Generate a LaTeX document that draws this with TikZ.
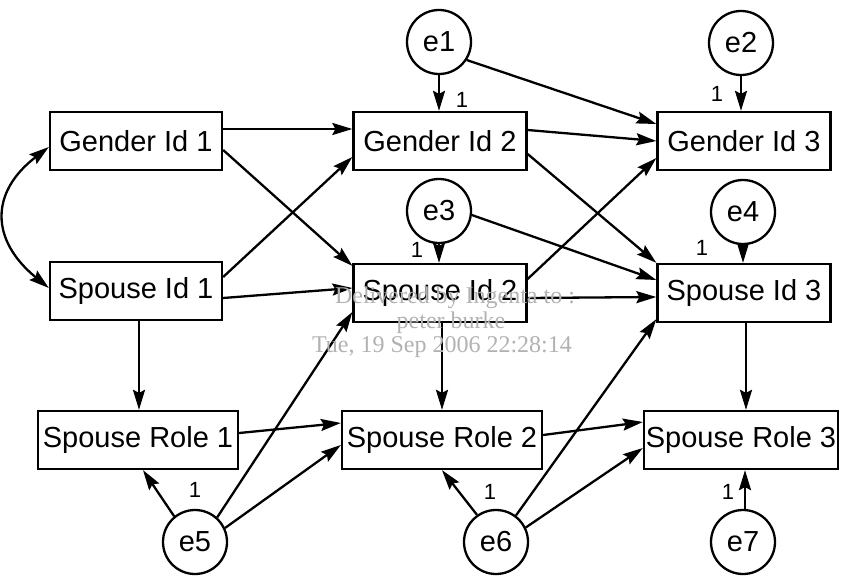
\documentclass[tikz,border=0pt]{standalone}
\usepackage{fontspec}
\setmainfont{Liberation Sans}
\newfontfamily\wmfont{Liberation Serif}
\usetikzlibrary{arrows.meta,calc}
\begin{document}
\begin{tikzpicture}[x=1pt,y=-1pt,
  box/.style={draw,line width=2.3pt,minimum height=58pt,inner sep=0pt,font=\fontsize{29}{31}\selectfont},
  err/.style={draw,circle,line width=2.3pt,minimum size=64pt,inner sep=0pt,font=\fontsize{29}{31}\selectfont},
  tip/.tip={Stealth[length=20pt,width=12pt,inset=3pt]},
  arr/.style={line width=2.3pt,-tip},
  one/.style={font=\fontsize{22}{24}\selectfont,inner sep=0pt},
  wm/.style={font=\wmfont\fontsize{24}{26}\selectfont,text=black!30,inner sep=0pt}]
\useasboundingbox (0,0) rectangle (843,577);
% boxes
\node[box,minimum width=172pt] (gi1) at (136,141) {Gender Id 1};
\node[box,minimum width=172pt] (si1) at (136,291) {Spouse Id 1};
\node[box,minimum width=173pt] (gi2) at (440,141) {Gender Id 2};
\node[box,minimum width=173pt] (si2) at (440,293) {Spouse Id 2};
\node[box,minimum width=173pt] (gi3) at (744,141) {Gender Id 3};
\node[box,minimum width=173pt] (si3) at (744,293) {Spouse Id 3};
\node[box,minimum width=200pt] (sr1) at (138,440) {Spouse Role 1};
\node[box,minimum width=200pt] (sr2) at (442,440) {Spouse Role 2};
\node[box,minimum width=194pt] (sr3) at (741,440) {Spouse Role 3};
% errors
\node[err] (e1) at (439,42) {e1};
\node[err] (e2) at (741,43) {e2};
\node[err] (e3) at (439,211) {e3};
\node[err] (e4) at (743,212) {e4};
\node[err] (e5) at (195,542) {e5};
\node[err] (e6) at (496,542) {e6};
\node[err] (e7) at (743,542) {e7};
% labels
\node[one] (l1) at (462,100) {1};
\node[one] (l2) at (717,94) {1};
\node[one] (l3) at (417,250) {1};
\node[one] (l4) at (702,248) {1};
\node[one] (l5) at (195,490) {1};
\node[one] (l6) at (490,492) {1};
\node[one] (l7) at (728,492) {1};
% covariance
\draw[line width=2.3pt,tip-tip] ([yshift=-6pt]gi1.west) .. controls (-10,192) and (-10,240) .. ([yshift=3pt]si1.west);
% paths
\draw[arr] ([yshift=12pt]gi1.east) -- ([yshift=12pt]gi2.west);
\draw[arr] ([yshift=-9pt]gi1.east) -- ([yshift=-3pt]si2.north west);
\draw[arr] ([yshift=14pt]si1.east) -- ([yshift=-16pt]gi2.west);
\draw[arr] ([yshift=-7pt]si1.east) -- ([yshift=5pt]si2.west);
\draw[arr] ([xshift=3pt]si1.south) -- ([xshift=3pt]si1.south |- sr1.north);
\draw[arr] (e1.south) -- (e1.south |- gi2.north);
\draw[arr] (e1.-33) -- ([yshift=17pt]gi3.west);
\draw[arr] ([yshift=11pt]gi2.east) -- (gi3.west);
\draw[arr] ([yshift=-13pt]gi2.east) -- (si3.north west);
\draw[arr] (e2.south) -- (e2.south |- gi3.north);
\draw[arr] (e3.south) -- (e3.south |- si2.north);
\draw[arr] (e3.-7) -- ([yshift=13pt]si3.west);
\draw[arr] ([yshift=14pt]si2.east) -- ([yshift=-17pt]gi3.west);
\draw[arr] ([yshift=-5pt]si2.east) -- ([yshift=-4pt]si3.west);
\draw[arr] (e4.south) -- (e4.south |- si3.north);
\draw[arr] (sr2.north |- si2.south) -- (sr2.north);
\draw[arr] ([xshift=2pt]si3.south) -- ([xshift=2pt]si3.south |- sr3.north);
\draw[arr] ([yshift=7pt]sr1.east) -- ([yshift=17pt]sr2.west);
\draw[arr] ([yshift=5pt]sr2.east) -- ([yshift=18pt]sr3.west);
\draw[arr] (e5.129) -- ([xshift=5pt]sr1.south);
\draw[arr] (e5.48) -- ([yshift=-19pt]si2.west);
\draw[arr] (e5.25) -- ([yshift=-5pt]sr2.west);
\draw[arr] (e6.125) -- (sr2.south);
\draw[arr] (e6.53) -- ([yshift=4pt]si3.south west);
\draw[arr] (e6.26) -- ([yshift=-8pt]sr3.west);
\draw[arr] ([xshift=2pt]e7.north) -- ([xshift=2pt]e7.north |- sr3.south);
% watermark
\node[wm] (wm1) at (455,298) {Delivered by Ingenta to :};
\node[wm] (wm2) at (451,323) {peter burke};
\node[wm] (wm3) at (442,347) {Tue, 19 Sep 2006 22:28:14};
\end{tikzpicture}
\end{document}
